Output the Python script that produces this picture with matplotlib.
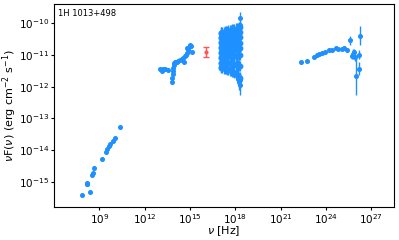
import numpy as np
import matplotlib
matplotlib.use('Agg')
import matplotlib.pyplot as plt

# log10(nu [Hz]) and log10(nuFnu [erg cm-2 s-1])
radio_lognu = [7.88, 8.39, 8.17, 8.21, 8.19, 8.52, 8.56, 8.65, 9.16, 9.44, 9.49, 9.66, 9.71, 9.93, 10.02, 10.37]
radio_logf = [-15.41, -15.31, -15.07, -15.02, -15.05, -14.79, -14.73, -14.57, -14.28, -14.07, -13.95, -13.86, -13.81, -13.70, -13.63, -13.26]

opt_lognu = [13.05, 13.12, 13.20, 13.34, 13.56, 13.79, 13.82, 13.85, 13.88, 13.90, 13.93, 13.96, 14.00,
             14.12, 14.22, 14.33, 14.45, 14.55, 14.62, 14.66, 14.72, 14.78, 14.78, 14.85, 14.88, 14.94, 14.99, 15.05, 15.11]
opt_logf = [-11.45, -11.50, -11.44, -11.45, -11.48, -11.85, -11.72, -11.60, -11.50, -11.40, -11.32, -11.25, -11.21,
            -11.21, -11.19, -11.16, -11.13, -11.11, -11.21, -11.05, -11.00, -10.95, -10.79, -10.85, -10.77, -10.75, -10.69, -10.72, -10.90]

uv_lognu = [16.05]
uv_logf = [-10.91]
uv_err = [0.16]

xray_lognu = [17.02, 17.08, 17.15, 17.22, 17.30, 17.38, 17.46, 17.54, 17.62, 17.70, 17.78, 17.86, 17.94,
              18.02, 18.10, 18.17, 18.24, 18.30]
xray_rows = [
    [-10.30, -10.30, -10.29, -10.28, -10.27, -10.26, -10.25, -10.24, -10.23, -10.22, -10.21, -10.20, -10.19, -10.18, -10.17, -10.16, -10.14, -10.13],
    [-10.45, -10.46, -10.45, -10.43, -10.42, -10.41, -10.41, -10.39, -10.38, -10.37, -10.36, -10.35, -10.34, -10.33, -10.32, -10.31, -10.30, -10.28],
    [-10.60, -10.61, -10.60, -10.59, -10.58, -10.57, -10.56, -10.55, -10.54, -10.53, -10.52, -10.51, -10.50, -10.49, -10.48, -10.47, -10.46, -10.45],
    [-10.76, -10.77, -10.76, -10.75, -10.74, -10.73, -10.72, -10.71, -10.70, -10.69, -10.68, -10.67, -10.66, -10.65, -10.64, -10.63, -10.62, -10.62],
    [-10.92, -10.93, -10.92, -10.91, -10.90, -10.89, -10.89, -10.88, -10.87, -10.86, -10.85, -10.84, -10.83, -10.82, -10.81, -10.80, -10.80, -10.79],
    [-11.08, -11.09, -11.08, -11.07, -11.07, -11.06, -11.06, -11.05, -11.05, -11.04, -11.04, -11.03, -11.03, -11.02, -11.01, -11.00, -11.00, -10.99],
    [-11.24, -11.25, -11.25, -11.24, -11.24, -11.25, -11.25, -11.26, -11.26, -11.27, -11.28, -11.29, -11.30, -11.31, -11.32, -11.33, -11.34, -11.35],
    [-11.38, -11.40, -11.41, -11.42, -11.43, -11.44, -11.45, -11.46, -11.48, -11.50, -11.52, -11.54, -11.57, -11.60, -11.63, -11.66, -11.70, -11.74],
]
xray_err = 0.17
xray_tail_lognu = [18.20, 18.25, 18.30, 18.33, 18.32, 18.32]
xray_tail_logf = [-11.75, -11.85, -11.95, -11.80, -9.85, -10.05]
xray_tail_err = [0.2, 0.25, 0.3, 0.25, 0.2, 0.1]

gamma_lognu = [22.31, 22.75, 23.19, 23.37, 23.54, 23.72, 23.90, 24.20, 24.38, 24.64, 24.82, 25.04, 25.17, 25.39,
               25.57, 25.70, 25.83, 25.92, 26.23, 26.18, 26.18, 26.01, 25.78]
gamma_logf = [-11.22, -11.19, -11.07, -11.01, -10.98, -10.93, -10.91, -10.85, -10.84, -10.78, -10.82, -10.80, -10.78, -10.85,
              -10.54, -11.03, -10.91, -11.07, -10.40, -10.99, -11.43, -11.65, -10.98]
gamma_err = [0.06, 0.03, 0.04, 0.04, 0.04, 0.03, 0.03, 0.03, 0.03, 0.04, 0.04, 0.05, 0.05, 0.06,
             0.15, 0.1, 0.1, 0.12, 0.3, 0.15, 0.2, 0.6, 0.15]

blue = '#1E90FF'


def draw(ax, lognu, logf, err=None, color=blue, capsize=0, ms=2.6):
    nu = 10 ** np.array(lognu)
    f = 10 ** np.array(logf)
    if err is None:
        yerr = None
    else:
        e = np.array(err) * np.ones_like(f)
        yerr = [f - f * 10 ** (-e), f * 10 ** e - f]
    ax.errorbar(nu, f, yerr=yerr, fmt='o', color=color, ms=ms, lw=1, capsize=capsize)


fig = plt.figure(figsize=(3.99, 2.4), dpi=100)
ax = fig.add_axes([0.135, 0.1375, 0.852, 0.8455])
ax.set_xscale('log')
ax.set_yscale('log')

draw(ax, radio_lognu, radio_logf, [0.05] * len(radio_lognu))
draw(ax, opt_lognu, opt_logf, [0.05] * len(opt_lognu))
for row in xray_rows:
    draw(ax, xray_lognu, row, xray_err, ms=3.2)
draw(ax, xray_tail_lognu, xray_tail_logf, xray_tail_err)
draw(ax, gamma_lognu, gamma_logf, gamma_err)
draw(ax, uv_lognu, uv_logf, uv_err, color='#ff5555', capsize=2, ms=2)

ax.set_xlim(10 ** 6.0, 10 ** 28.48)
ax.set_ylim(10 ** -15.79, 10 ** -9.4)
ax.set_xticks([10.0 ** k for k in range(9, 28, 3)])
ax.set_yticks([10.0 ** k for k in range(-15, -9)])
ax.minorticks_off()
ax.tick_params(labelsize=7.5, length=2.5, pad=1)
ax.set_xlabel(r'$\nu$ [Hz]', fontsize=8, labelpad=-1)
ax.set_ylabel(r'$\nu$F($\nu$) (erg cm$^{-2}$ s$^{-1}$)', fontsize=8, labelpad=0)
ax.text(0.012, 0.975, '1H 1013+498', transform=ax.transAxes, fontsize=6, va='top', ha='left')

fig.savefig('out.png', dpi=100)
